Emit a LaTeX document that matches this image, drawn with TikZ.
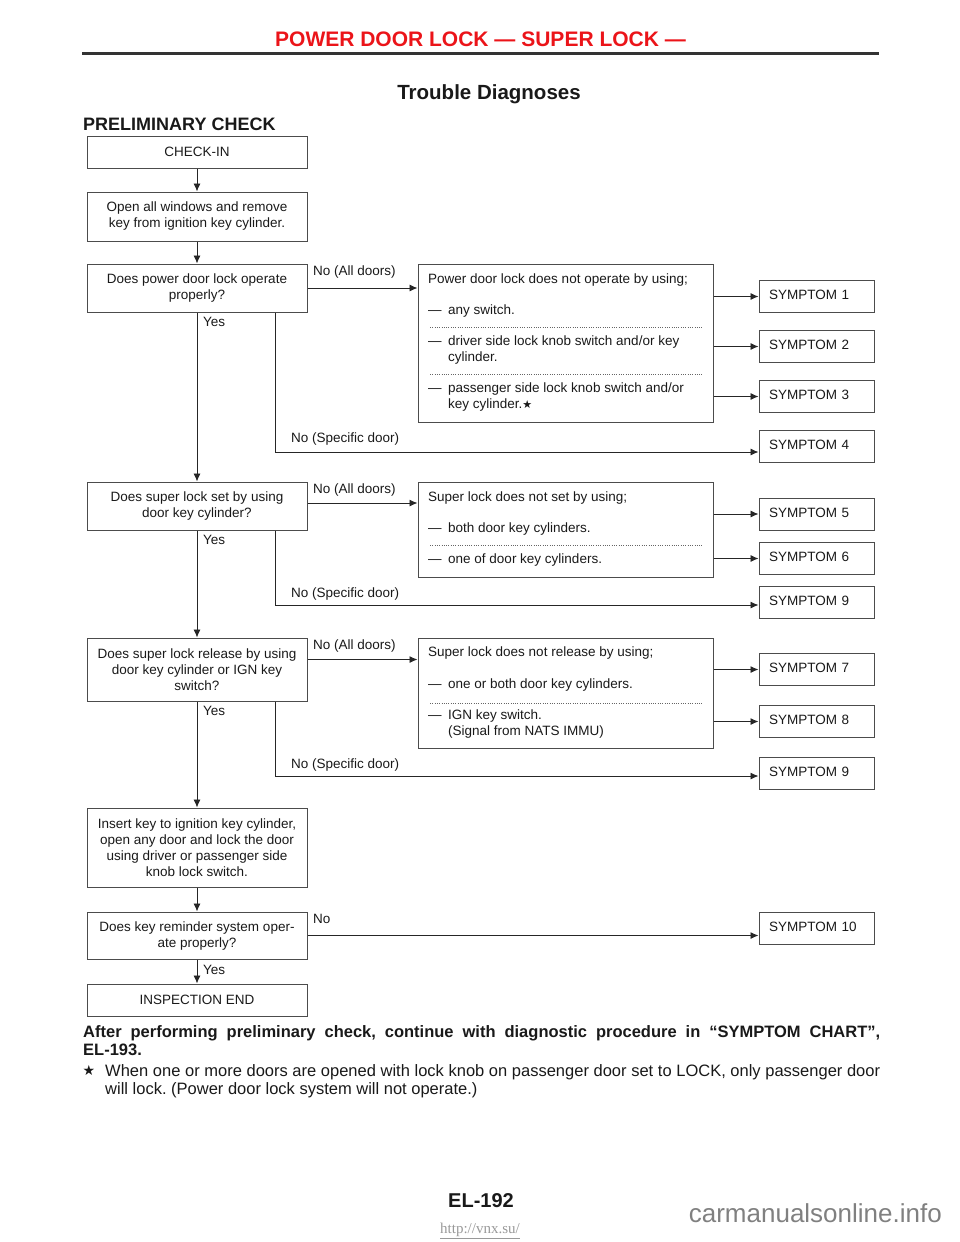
\documentclass[tikz,border=0pt]{standalone}
\usepackage{fontspec}
\setmainfont{Liberation Sans}
\newfontfamily\symfont{DejaVu Sans}
\newfontfamily\linkfont{Liberation Serif}
\usepackage{tikz}
\usetikzlibrary{arrows.meta}
\definecolor{headred}{RGB}{235,20,25}
\frenchspacing

\newcommand{\bodysize}{\fontsize{13.5}{16}\selectfont}
\newcommand{\starsym}{{\symfont\fontsize{11}{11}\selectfont ★}}
\newcommand{\dashitem}{\makebox[20pt][l]{—}}

\begin{document}
\begin{tikzpicture}[x=1pt, y=-1pt,
        box/.style={draw=black!70, line width=1pt, minimum width=220, align=center, font=\bodysize, text=black!90, inner sep=0},
        bigbox/.style={draw=black!70, line width=1pt, minimum width=295},
        symptom/.style={draw=black!70, line width=1pt, minimum width=115, minimum height=32, text width=95, inner xsep=10, inner ysep=0, align=left, font=\bodysize, text=black!90, text height=9.7pt, text depth=3pt},
        lbl/.style={anchor=west, inner sep=0, font=\bodysize, text=black!90, text height=9.8pt, text depth=0pt},
        flow/.style={draw=black!85, line width=0.9pt, -{Latex[length=8pt, width=7pt]}},
        dots/.style={draw=black!60, line width=0.8pt, dash pattern=on 0.7pt off 1.6pt}]
        \useasboundingbox (0,0) rectangle (960,1242);

        % page head
        \node (header) at (480.5,46)[anchor=base, font=\bfseries\fontsize{21}{24}\selectfont, text=headred] {POWER DOOR LOCK — SUPER LOCK —};
        \draw[line width=3pt, black!80] (82,53) -- (879,53);
        \node (title) at (489,99)[anchor=base, font=\bfseries\fontsize{20.5}{24}\selectfont, text=black!90] {Trouble Diagnoses};
        \node (prelim) at (83,130)[anchor=base west, inner sep=0, font=\bfseries\fontsize{18}{20}\selectfont, text=black!90] {PRELIMINARY CHECK};

        % main column
        \node (checkin) at (197,152)[box, minimum height=32] {CHECK-IN};
        \node (windows) at (197,216.5)[box, minimum height=49] {Open all windows and remove\\key from ignition key cylinder.};
        \node (qpower) at (197,288)[box, minimum height=48] {Does power door lock operate\\properly?};
        \node (qset) at (197,506)[box, minimum height=48] {Does super lock set by using\\door key cylinder?};
        \node (qrelease) at (197,669.5)[box, minimum height=63] {Does super lock release by using\\door key cylinder or IGN key\\switch?};
        \node (insert) at (197,847.5)[box, minimum height=79] {Insert key to ignition key cylinder,\\open any door and lock the door\\using driver or passenger side\\knob lock switch.};
        \node (qremind) at (197,935.5)[box, minimum height=47] {Does key reminder system oper-\\ate properly?};
        \node (inspend) at (197,1000)[box, minimum height=32] {INSPECTION END};

        \draw[flow] (checkin) -- (windows);
        \draw[flow] (windows) -- (qpower);
        \draw[flow] (qpower) -- (qset);
        \draw[flow] (qset) -- (qrelease);
        \draw[flow] (qrelease) -- (insert);
        \draw[flow] (insert) -- (qremind);
        \draw[flow] (qremind) -- (inspend);

        \node (yes1) at (203,322)[lbl] {Yes};
        \node (yes2) at (203,540)[lbl] {Yes};
        \node (yes3) at (203,711)[lbl] {Yes};
        \node (yes4) at (203,970)[lbl] {Yes};

        % symptom boxes
        \node (sym1) at (816.5,296.5)[symptom] {SYMPTOM 1};
        \node (sym2) at (816.5,346.5)[symptom] {SYMPTOM 2};
        \node (sym3) at (816.5,396.5)[symptom] {SYMPTOM 3};
        \node (sym4) at (816.5,446.5)[symptom] {SYMPTOM 4};
        \node (sym5) at (816.5,514)[symptom] {SYMPTOM 5};
        \node (sym6) at (816.5,558.5)[symptom] {SYMPTOM 6};
        \node (sym9a) at (816.5,602)[symptom] {SYMPTOM 9};
        \node (sym7) at (816.5,669.5)[symptom] {SYMPTOM 7};
        \node (sym8) at (816.5,721.5)[symptom] {SYMPTOM 8};
        \node (sym9b) at (816.5,773)[symptom] {SYMPTOM 9};
        \node (sym10) at (816.5,928.5)[symptom] {SYMPTOM 10};

        % power door lock branch
        \node (bigpower) at (565.5,343)[bigbox, minimum height=158] {};
        \node (tpower) at (428,279)[lbl] {Power door lock does not operate by using;};
        \node (tpower1) at (428,310)[lbl] {\dashitem any switch.};
        \draw[dots] (430,327) -- (703,327);
        \node (tpower2) at (428,341)[lbl] {\dashitem driver side lock knob switch and/or key};
        \node (tpower2b) at (448,357)[lbl] {cylinder.};
        \draw[dots] (430,374) -- (703,374);
        \node (tpower3) at (428,388)[lbl] {\dashitem passenger side lock knob switch and/or};
        \node (tpower3b) at (448,404)[lbl] {key cylinder.\starsym};

        \node (noall1) at (313,271)[lbl] {No (All doors)};
        \draw[flow] (qpower.east) -- (qpower.east -| bigpower.west);
        \draw[flow] (bigpower.east |- sym1.west) -- (sym1.west);
        \draw[flow] (bigpower.east |- sym2.west) -- (sym2.west);
        \draw[flow] (bigpower.east |- sym3.west) -- (sym3.west);
        \coordinate (spec1) at (275,452);
        \node (nospec1) at (291,438)[lbl] {No (Specific door)};
        \draw[flow] (qpower.south -| spec1) |- (sym4.west |- spec1);

        % super lock set branch
        \node (bigset) at (565.5,529.5)[bigbox, minimum height=95] {};
        \node (tset) at (428,497)[lbl] {Super lock does not set by using;};
        \node (tset1) at (428,528)[lbl] {\dashitem both door key cylinders.};
        \draw[dots] (430,545) -- (703,545);
        \node (tset2) at (428,559)[lbl] {\dashitem one of door key cylinders.};

        \node (noall2) at (313,489)[lbl] {No (All doors)};
        \draw[flow] ([yshift=3pt]qset.east) -- ([yshift=3pt]qset.east -| bigset.west);
        \draw[flow] (bigset.east |- sym5.west) -- (sym5.west);
        \draw[flow] (bigset.east |- sym6.west) -- (sym6.west);
        \coordinate (spec2) at (275,605);
        \node (nospec2) at (291,593)[lbl] {No (Specific door)};
        \draw[flow] (qset.south -| spec2) |- (sym9a.west |- spec2);

        % super lock release branch
        \node (bigrelease) at (565.5,693)[bigbox, minimum height=110] {};
        \node (trelease) at (428,652)[lbl] {Super lock does not release by using;};
        \node (trelease1) at (428,684)[lbl] {\dashitem one or both door key cylinders.};
        \draw[dots] (430,703) -- (703,703);
        \node (trelease2) at (428,715)[lbl] {\dashitem IGN key switch.};
        \node (trelease2b) at (448,731)[lbl] {(Signal from NATS IMMU)};

        \node (noall3) at (313,645)[lbl] {No (All doors)};
        \draw[flow] ([yshift=10pt]qrelease.east) -- ([yshift=10pt]qrelease.east -| bigrelease.west);
        \draw[flow] (bigrelease.east |- sym7.west) -- (sym7.west);
        \draw[flow] (bigrelease.east |- sym8.west) -- (sym8.west);
        \coordinate (spec3) at (275,776);
        \node (nospec3) at (291,764)[lbl] {No (Specific door)};
        \draw[flow] (qrelease.south -| spec3) |- (sym9b.west |- spec3);

        % key reminder
        \node (no4) at (313,919)[lbl] {No};
        \draw[flow] (qremind.east) -- (qremind.east -| sym10.west);

        % notes
        \node (after) at (83,1025)[anchor=north west, inner sep=0, text width=797, align=justify, font=\bfseries\fontsize{16.5}{18}\selectfont, text=black!90] {After performing preliminary check, continue with diagnostic procedure in “SYMPTOM CHART”,\linebreak EL-193.};
        \node (star) at (89,1070)[inner sep=0, font=\symfont\fontsize{14}{14}\selectfont, text=black!90] {★};
        \node (note) at (105,1064)[anchor=north west, inner sep=0, text width=775, align=justify, font=\fontsize{16.5}{18}\selectfont, text=black!90] {When one or more doors are opened with lock knob on passenger door set to LOCK, only passenger door\linebreak will lock. (Power door lock system will not operate.)};

        % page foot
        \node (page) at (481,1207)[anchor=base, font=\bfseries\fontsize{20}{24}\selectfont, text=black!90] {EL-192};
        \node (link) at (480,1231)[font=\linkfont\fontsize{15}{17}\selectfont, text=black!40] {\underline{http://vnx.su/}};
        \node (mark) at (942,1222)[anchor=base east, inner sep=0, font=\fontsize{26}{28}\selectfont, text=black!50] {carmanualsonline.info};
\end{tikzpicture}
\end{document}
